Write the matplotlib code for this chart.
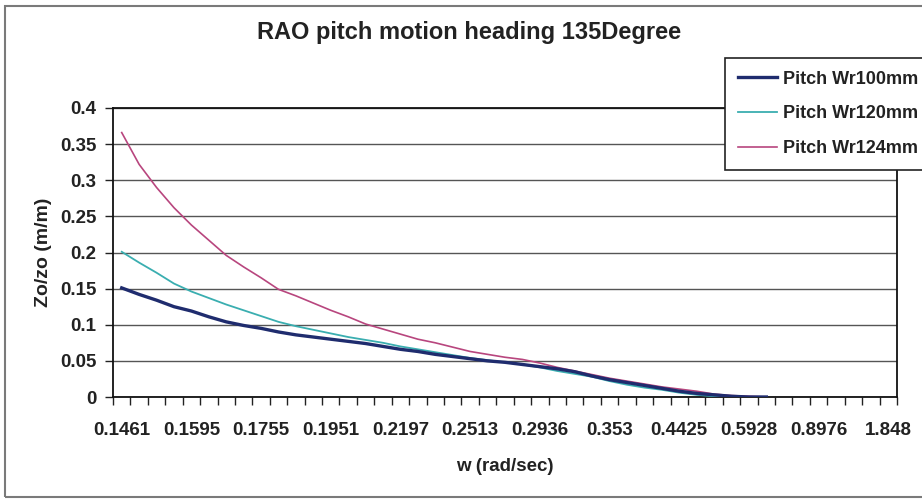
import numpy as np
import matplotlib
matplotlib.use("Agg")
import matplotlib.pyplot as plt
from matplotlib.patches import Rectangle

plt.rcParams['font.family'] = ['Liberation Sans', 'DejaVu Sans']

# tick labels shown on the category axis (every 4th category)
w_labels = ['0.1461', '0.1595', '0.1755', '0.1951', '0.2197', '0.2513',
            '0.2936', '0.353', '0.4425', '0.5928', '0.8976', '1.848']
label_step = 4

# RAO values, one per category (lines stop near 0.5928)
pitch_wr100 = [0.151, 0.142, 0.134, 0.125, 0.119, 0.111, 0.104, 0.099, 0.095,
               0.090, 0.086, 0.083, 0.080, 0.077, 0.074, 0.070, 0.066, 0.063,
               0.059, 0.056, 0.053, 0.050, 0.048, 0.045, 0.042, 0.039, 0.035,
               0.029, 0.024, 0.020, 0.016, 0.012, 0.008, 0.005, 0.003, 0.001,
               0.000, 0.000]
pitch_wr120 = [0.201, 0.186, 0.172, 0.157, 0.146, 0.137, 0.128, 0.120, 0.112,
               0.104, 0.098, 0.093, 0.088, 0.083, 0.079, 0.075, 0.070, 0.066,
               0.062, 0.058, 0.054, 0.051, 0.048, 0.045, 0.041, 0.036, 0.032,
               0.028, 0.022, 0.017, 0.013, 0.010, 0.006, 0.003, 0.001, 0.000,
               0.000, 0.000]
pitch_wr124 = [0.366, 0.322, 0.290, 0.262, 0.238, 0.217, 0.196, 0.180, 0.165,
               0.149, 0.140, 0.130, 0.120, 0.111, 0.101, 0.094, 0.087, 0.080,
               0.075, 0.069, 0.063, 0.059, 0.055, 0.052, 0.047, 0.041, 0.036,
               0.031, 0.026, 0.022, 0.018, 0.014, 0.011, 0.008, 0.004, 0.002,
               0.001, 0.000]

series_names = ['Pitch Wr100mm', 'Pitch Wr120mm', 'Pitch Wr124mm']

fig = plt.figure(figsize=(9.22, 5.04), dpi=100)
fig.patch.set_facecolor('white')

# outer chart frame
fig.patches.append(Rectangle((5 / 922, 1 - 497 / 504), 1.0, (497 - 6) / 504,
                             transform=fig.transFigure, fill=False,
                             edgecolor='#7a7a7a', lw=1.5))

ax = fig.add_axes([113 / 922, 1 - 397 / 504, 784 / 922, 289 / 504])

l1, = ax.plot(np.arange(len(pitch_wr100)), pitch_wr100, color='#1f2c6e', lw=2.4, zorder=4)
l2, = ax.plot(np.arange(len(pitch_wr120)), pitch_wr120, color='#3aaeb0', lw=1.3, zorder=3)
l3, = ax.plot(np.arange(len(pitch_wr124)), pitch_wr124, color='#b8467e', lw=1.2, zorder=3)

n = (len(w_labels) - 1) * label_step + 1   # number of categories on the axis
ax.set_xlim(-0.5, n - 0.5)
ax.set_ylim(0, 0.4)

# category boundaries get tick marks, labels sit at category centres
ax.set_xticks(np.arange(n + 1) - 0.5)
ax.set_xticklabels([])
ax.set_xticks(np.arange(0, n, label_step), minor=True)
ax.set_xticklabels(w_labels, minor=True)
ax.tick_params(axis='x', which='major', direction='out', length=6, width=1, color='#222')
ax.tick_params(axis='x', which='minor', length=0, pad=18, labelsize=13.5)

yt = np.arange(0, 0.401, 0.05)
ax.set_yticks(yt)
ax.set_yticklabels(['0', '0.05', '0.1', '0.15', '0.2', '0.25', '0.3', '0.35', '0.4'])
ax.tick_params(axis='y', direction='out', length=6, width=1, color='#222',
               labelsize=13.5, pad=6)
for lab in ax.get_xticklabels(minor=True) + ax.get_yticklabels():
    lab.set_fontweight('bold')
    lab.set_color('#222')

ax.grid(axis='y', color='#555555', lw=1.0)
ax.set_axisbelow(True)
for s in ax.spines.values():
    s.set_color('#111')
    s.set_linewidth(1.3)

ax.set_xlabel('w (rad/sec)', fontsize=13.5, fontweight='bold', color='#222', labelpad=14)
ax.set_ylabel('Zo/zo (m/m)', fontsize=14, fontweight='bold', color='#222', labelpad=6)

fig.text(469 / 922, 1 - 32 / 504, 'RAO pitch motion heading 135Degree',
         ha='center', va='center', fontsize=17, fontweight='bold', color='#222')

leg = fig.legend([l1, l2, l3], series_names, loc='upper left',
                 bbox_to_anchor=(725 / 922, 1 - 58 / 504), borderaxespad=0,
                 frameon=True, fancybox=False, framealpha=1, edgecolor='#222',
                 prop={'size': 13, 'weight': 'bold'}, handlelength=2.2,
                 handletextpad=0.3, labelspacing=0.98, borderpad=0.7)
leg.get_frame().set_linewidth(1.2)
for t in leg.get_texts():
    t.set_color('#222')

fig.savefig('out.png', dpi=100, facecolor='white')
